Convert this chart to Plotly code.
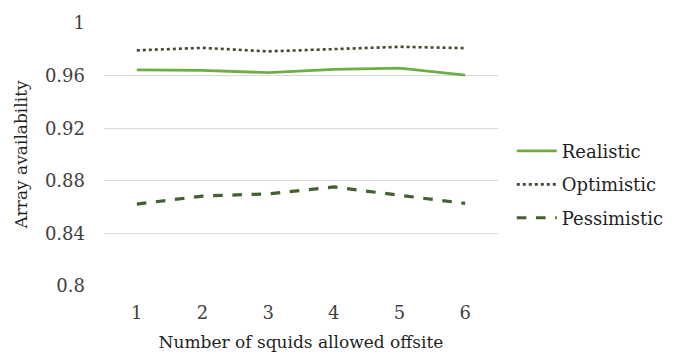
import plotly.graph_objects as go

squids_offsite = [1, 2, 3, 4, 5, 6]
realistic = [0.9644, 0.9640, 0.9622, 0.9647, 0.9657, 0.9603]
optimistic = [0.9792, 0.9811, 0.9784, 0.9802, 0.9819, 0.9809]
pessimistic = [0.8623, 0.8684, 0.8701, 0.8753, 0.8690, 0.8628]
y_ticks = [0.8, 0.84, 0.88, 0.92, 0.96, 1.0]
y_tick_text = ["0.8", "0.84", "0.88", "0.92", "0.96", "1"]

FONT = "DejaVu Serif"
TEXT = "#1f1f1f"

fig = go.Figure()
fig.add_trace(go.Scatter(x=squids_offsite, y=realistic, name="Realistic", mode="lines",
                         legendgroup="r",
                         line=dict(color="#70AD47", width=2.8)))
fig.add_trace(go.Scatter(x=squids_offsite, y=optimistic, name="Optimistic", mode="lines",
                         legendgroup="o",
                         line=dict(color="#3B4A30", width=2.6, dash="dot")))
fig.add_trace(go.Scatter(x=squids_offsite, y=pessimistic, name="Pessimistic", mode="lines",
                         legendgroup="p",
                         line=dict(color="#43602F", width=3.2, dash="dash")))

fig.update_layout(
    width=681, height=361,
    margin=dict(l=104, r=183, t=17, b=74),
    paper_bgcolor="white", plot_bgcolor="white",
    font=dict(family=FONT, size=18, color=TEXT),
    showlegend=True,
    legend=dict(x=1.035, xanchor="left", y=0.385, yanchor="middle",
                font=dict(family=FONT, size=18, color=TEXT),
                traceorder="grouped", tracegroupgap=7,
                itemwidth=40, bgcolor="rgba(0,0,0,0)"),
    xaxis=dict(range=[0.5, 6.5], tickvals=squids_offsite, showgrid=False,
               zeroline=False, showline=False, ticks="",
               ticklabelstandoff=14,
               title=dict(text="Number of squids allowed offsite", standoff=14,
                          font=dict(family=FONT, size=17, color=TEXT)),
               tickfont=dict(family=FONT, size=18, color="#404040")),
    yaxis=dict(range=[0.8, 1.0], tickvals=y_ticks, ticktext=y_tick_text,
               showgrid=True, gridcolor="#D9D9D9", gridwidth=1,
               zeroline=False, showline=False, ticks="",
               ticklabelstandoff=18,
               title=dict(text="Array availability", standoff=12,
                          font=dict(family=FONT, size=17, color=TEXT)),
               tickfont=dict(family=FONT, size=18, color="#404040")),
)

fig.write_html("out.html")
